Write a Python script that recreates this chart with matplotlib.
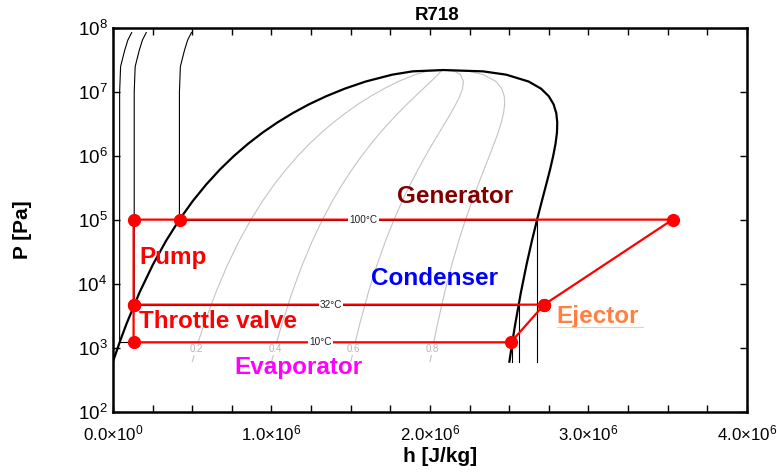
import numpy as np
import matplotlib
matplotlib.use("Agg")
from matplotlib import pyplot as plt
import matplotlib.transforms as mtransforms

plt.rcParams["font.family"] = ["Liberation Sans", "DejaVu Sans"]
plt.rcParams["mathtext.fontset"] = "custom"
plt.rcParams["mathtext.rm"] = "Liberation Sans"
plt.rcParams["mathtext.bf"] = "Liberation Sans:bold"
plt.rcParams["mathtext.default"] = "regular"

# saturation data of water (R718)
T_SAT = [0.01, 10, 20, 40, 60, 80, 100, 120, 140, 160, 180, 200, 220, 240,
         260, 280, 300, 320, 340, 360, 370, 373.95]
P_SAT = [611.7, 1228, 2339, 7385, 19947, 47416, 101418, 198670, 361540,
         618230, 1002800, 1554900, 2319600, 3346900, 4692300, 6416600,
         8587900, 11284000, 14601000, 18666000, 21044000, 22064000]
H_LIQ = [0.0, 42.0, 83.9, 167.5, 251.2, 335.0, 419.2, 503.8, 589.2, 675.5,
         763.1, 852.3, 943.6, 1037.6, 1134.8, 1236.1, 1344.8, 1462.2,
         1594.5, 1761.5, 1890.7, 2084.3]
H_VAP = [2500.9, 2519.2, 2537.4, 2573.5, 2608.8, 2643.0, 2675.6, 2705.9,
         2733.5, 2757.8, 2777.2, 2792.0, 2801.0, 2803.0, 2796.6, 2779.9,
         2749.6, 2700.6, 2622.0, 2481.0, 2334.5, 2084.3]

QUALITIES = [0.2, 0.4, 0.6, 0.8]
QUALITY_LABEL_P = 964

# isotherms
ISO_LABELS = ["10°C", "32°C", "100°C"]
ISO_P = [1228, 4760, 101418]
ISO_HL = [42.0e3, 134.0e3, 419.2e3]
ISO_HV = [2519.2e3, 2559.9e3, 2675.6e3]
ISO_LABEL_H = [1.31e6, 1.375e6, 1.58e6]
# compressed liquid rise of h
COMP_P = [1e7, 2.5e7, 4.5e7, 6.5e7, 8.5e7]
COMP_DH = [0.0, 6e3, 32e3, 52e3, 76e3]

# ejector refrigeration cycle
CYCLE_H = [0.13e6, 0.13e6, 0.42e6, 3.53e6, 2.72e6, 0.13e6, 0.13e6, 2.51e6, 2.72e6]
CYCLE_P = [4760, 101418, 101418, 101418, 4760, 4760, 1228, 1228, 4760]

X_TICKS = [0, 1e6, 2e6, 3e6, 4e6]
X_LABELS = [r"$0.0{\times}10^{0}$", r"$1.0{\times}10^{6}$", r"$2.0{\times}10^{6}$",
            r"$3.0{\times}10^{6}$", r"$4.0{\times}10^{6}$"]
Y_TICKS = [1e2, 1e3, 1e4, 1e5, 1e6, 1e7, 1e8]
Y_LABELS = [r"$10^{%d}$" % k for k in range(2, 9)]

h_liq = np.array(H_LIQ) * 1e3
h_vap = np.array(H_VAP) * 1e3
p_sat = np.array(P_SAT)

fig = plt.figure(figsize=(7.77, 4.75), dpi=100)
ax = fig.add_axes([0.1454, 0.1326, 0.8160, 0.8084])

# quality lines
for q in QUALITIES:
    hq = h_liq + q * (h_vap - h_liq)
    ax.plot(hq, p_sat, color="#c4c4c4", lw=0.8, zorder=1)
    hl = np.interp(np.log10(QUALITY_LABEL_P), np.log10(p_sat), hq)
    ax.text(hl, QUALITY_LABEL_P, "%.1f" % q, fontsize=7, color="#b4b4b4",
            ha="center", va="center", zorder=2,
            bbox=dict(facecolor="white", edgecolor="none", pad=0.4))

# isotherms
for p, hl, hv in zip(ISO_P, ISO_HL, ISO_HV):
    pl = [p] + COMP_P
    hh = [hl] + [hl + d for d in COMP_DH]
    ax.plot(hh, pl, color="black", lw=0.8, zorder=2)
    ax.plot([hl, hv], [p, p], color="black", lw=0.8, zorder=2)
    ax.plot([hv, hv], [p, P_SAT[0]], color="black", lw=0.8, zorder=2)

# saturation dome
dome_h = np.concatenate([h_liq, h_vap[::-1]])
dome_p = np.concatenate([p_sat, p_sat[::-1]])
ax.plot(dome_h, dome_p, color="black", lw=1.6, zorder=3)

# cycle
ax.plot(CYCLE_H, CYCLE_P, color="#ff0000", lw=1.6, zorder=4)
ax.plot(CYCLE_H, CYCLE_P, ls="none", marker="o", ms=8.5, color="#ff0000", zorder=5)

for lab, p, h in zip(ISO_LABELS, ISO_P, ISO_LABEL_H):
    ax.text(h, p, lab, fontsize=7.2, color="#202020", ha="center", va="center",
            zorder=6, bbox=dict(facecolor="white", edgecolor="none", pad=0.8))

bold = dict(fontweight="bold", fontsize=17.5, va="center", zorder=6)
ax.text(2.158e6, 2.29e5, "Generator", color="#800000", ha="center", **bold)
ax.text(0.165e6, 2.64e4, "Pump", color="#ff0000", ha="left", **bold)
ax.text(0.165e6, 2.64e3, "Throttle valve", color="#ff0000", ha="left", **bold)
ax.text(2.03e6, 1.24e4, "Condenser", color="#0000ff", ha="center", **bold)
ax.text(1.17e6, 505, "Evaporator", color="#ff00ff", ha="center", **bold)
ax.text(2.80e6, 3.16e3, "Ejector", color="#ff8040", ha="left", **bold)
# underline of the ejector label
under = ax.transData + mtransforms.ScaledTranslation(0, -8 / 72, fig.dpi_scale_trans)
ax.plot([2.80e6, 3.345e6], [3.16e3, 3.16e3], color="#ffc8a8", lw=0.8,
        transform=under, zorder=6)

ax.set_yscale("log")
ax.set_xlim(0, 4e6)
ax.set_ylim(1e2, 1e8)
ax.set_xticks(X_TICKS)
ax.set_xticklabels(X_LABELS)
ax.set_xticks(np.arange(0, 4e6, 0.25e6), minor=True)
ax.set_yticks(Y_TICKS)
ax.set_yticklabels(Y_LABELS)
ax.yaxis.set_minor_locator(matplotlib.ticker.NullLocator())
ax.tick_params(which="both", direction="in", top=True, right=True,
               length=5, width=1)
ax.tick_params(axis="y", pad=4, labelsize=13.5)
ax.tick_params(axis="x", pad=8, labelsize=12.2)
for s in ax.spines.values():
    s.set_linewidth(1.8)

ax.set_xlabel("h [J/kg]", fontsize=15, fontweight="bold")
ax.xaxis.set_label_coords(0.516, -0.09)
ax.set_ylabel("P [Pa]", fontsize=15, fontweight="bold")
ax.yaxis.set_label_coords(-0.127, 0.474)
ax.set_title("R718", fontsize=13.5, fontweight="bold", pad=6, x=0.511)

fig.savefig("out.png", dpi=100)
